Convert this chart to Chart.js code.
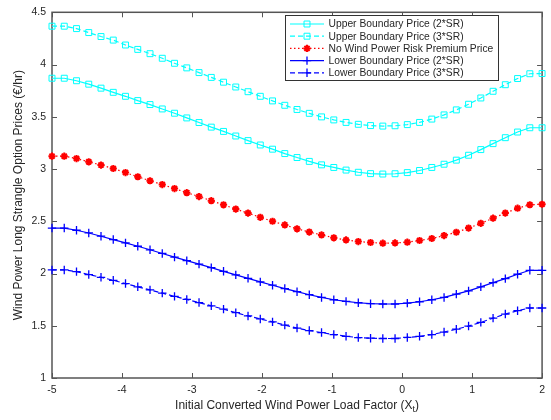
<!DOCTYPE html>
<html>
<head>
<meta charset="utf-8">
<title>Wind Power Long Strangle Option Prices</title>
<script src="https://cdn.jsdelivr.net/npm/chart.js@4/dist/chart.umd.min.js"></script>
<style>
  html, body { margin: 0; padding: 0; background: #fff; }
  #wrap { width: 551px; height: 420px; position: relative; }
</style>
</head>
<body>
<div id="wrap"><canvas id="optionChart"></canvas></div>
<script>
// Initial converted wind power load factor X_t
const loadFactor = [
  -5, -4.825, -4.65, -4.475, -4.3, -4.125, -3.95, -3.775, -3.6, -3.425,
  -3.25, -3.075, -2.9, -2.725, -2.55, -2.375, -2.2, -2.025, -1.85, -1.675,
  -1.5, -1.325, -1.15, -0.975, -0.8, -0.625, -0.45, -0.275, -0.1, 0.075,
  0.25, 0.425, 0.6, 0.775, 0.95, 1.125, 1.3, 1.475, 1.65, 1.825, 2
];

// Option prices (EUR/hr)
const upper2SR = [
  3.869, 3.869, 3.845, 3.812, 3.774, 3.734, 3.696, 3.655, 3.617, 3.575,
  3.534, 3.489, 3.445, 3.401, 3.36, 3.316, 3.272, 3.23, 3.19, 3.148,
  3.11, 3.073, 3.04, 3.015, 2.99, 2.969, 2.956, 2.952, 2.955, 2.966,
  2.986, 3.015, 3.046, 3.085, 3.132, 3.186, 3.243, 3.3, 3.354, 3.395, 3.395
];
const upper3SR = [
  4.367, 4.367, 4.344, 4.306, 4.268, 4.234, 4.187, 4.145, 4.104, 4.06,
  4.012, 3.968, 3.923, 3.877, 3.831, 3.785, 3.74, 3.696, 3.652, 3.61,
  3.57, 3.533, 3.499, 3.47, 3.446, 3.428, 3.416, 3.411, 3.414, 3.425,
  3.446, 3.478, 3.518, 3.566, 3.62, 3.68, 3.744, 3.807, 3.866, 3.912, 3.914
];
const noPremium = [
  3.123, 3.123, 3.1, 3.069, 3.038, 3.005, 2.966, 2.926, 2.888, 2.851,
  2.813, 2.774, 2.736, 2.697, 2.657, 2.617, 2.578, 2.538, 2.5, 2.465,
  2.428, 2.397, 2.369, 2.342, 2.321, 2.306, 2.297, 2.29, 2.293, 2.3,
  2.316, 2.335, 2.363, 2.395, 2.435, 2.48, 2.53, 2.578, 2.625, 2.658, 2.663
];
const lower2SR = [
  2.435, 2.435, 2.414, 2.388, 2.357, 2.325, 2.293, 2.261, 2.227, 2.192,
  2.157, 2.123, 2.09, 2.056, 2.021, 1.987, 1.954, 1.92, 1.888, 1.856,
  1.826, 1.797, 1.771, 1.749, 1.733, 1.72, 1.711, 1.708, 1.708, 1.717,
  1.73, 1.749, 1.771, 1.803, 1.834, 1.872, 1.913, 1.951, 1.993, 2.031, 2.031
];
const lower3SR = [
  2.034, 2.034, 2.018, 1.99, 1.964, 1.935, 1.904, 1.873, 1.843, 1.812,
  1.781, 1.752, 1.722, 1.69, 1.659, 1.625, 1.594, 1.565, 1.537, 1.506,
  1.478, 1.454, 1.435, 1.416, 1.399, 1.387, 1.381, 1.378, 1.378, 1.388,
  1.399, 1.416, 1.44, 1.467, 1.497, 1.532, 1.573, 1.612, 1.644, 1.67, 1.67
];

const xTicks = [-5, -4, -3, -2, -1, 0, 1, 2];
const xTickLabels = ['-5', '-4', '-3', '-2', '-1', '0', '1', '2'];
const yTicks = [1, 1.5, 2, 2.5, 3, 3.5, 4, 4.5];
const yTickLabels = ['1', '1.5', '2', '2.5', '3', '3.5', '4', '4.5'];

const seriesLabels = [
  'Upper Boundary Price (2*SR)',
  'Upper Boundary Price (3*SR)',
  'No Wind Power Risk Premium Price',
  'Lower Boundary Price (2*SR)',
  'Lower Boundary Price (3*SR)'
];

const FONT = '"Liberation Sans", Arial, Helvetica, sans-serif';
const TEXT_COLOR = '#262626';
const AXIS_COLOR = '#555555';

function toPoints(ys) {
  return loadFactor.map((x, i) => ({ x: x, y: ys[i] }));
}

function makeSeries(label, values, color, dash, style, radius, markerWidth) {
  return {
    label: label,
    data: toPoints(values),
    borderColor: color,
    borderWidth: 1.2,
    borderDash: dash,
    tension: 0,
    fill: false,
    clip: false,
    pointStyle: style,
    pointRadius: radius,
    pointHoverRadius: radius,
    pointBorderColor: color,
    pointBackgroundColor: 'rgba(0,0,0,0)',
    pointBorderWidth: markerWidth
  };
}

const datasets = [
  makeSeries(seriesLabels[0], upper2SR, '#00ffff', [], 'rect', 4.2, 1),
  makeSeries(seriesLabels[1], upper3SR, '#00ffff', [5, 3], 'rect', 4.2, 1),
  makeSeries(seriesLabels[2], noPremium, '#ff0000', [1.5, 2.5], 'star', 3.6, 2),
  makeSeries(seriesLabels[3], lower2SR, '#0000ff', [], 'cross', 4.2, 1.3),
  makeSeries(seriesLabels[4], lower3SR, '#0000ff', [5, 3], 'cross', 4.2, 1.3)
];

// axes box with inward ticks on all four sides
const framePlugin = {
  id: 'frame',
  beforeDatasetsDraw(chart) {
    const { ctx, chartArea: a, scales } = chart;
    const tick = 5;
    ctx.save();
    ctx.strokeStyle = AXIS_COLOR;
    ctx.lineWidth = 1.5;
    ctx.strokeRect(a.left, a.top, a.right - a.left, a.bottom - a.top);
    ctx.lineWidth = 1;
    ctx.beginPath();
    xTicks.forEach(v => {
      const px = Math.round(scales.x.getPixelForValue(v)) + 0.5;
      ctx.moveTo(px, a.bottom); ctx.lineTo(px, a.bottom - tick);
      ctx.moveTo(px, a.top); ctx.lineTo(px, a.top + tick);
    });
    yTicks.forEach(v => {
      const py = Math.round(scales.y.getPixelForValue(v)) + 0.5;
      ctx.moveTo(a.left, py); ctx.lineTo(a.left + tick, py);
      ctx.moveTo(a.right, py); ctx.lineTo(a.right - tick, py);
    });
    ctx.stroke();
    ctx.restore();
  }
};

// axis titles, x title carries a subscript t
const titlePlugin = {
  id: 'axisTitles',
  afterDraw(chart) {
    const { ctx, chartArea: a } = chart;
    ctx.save();
    ctx.fillStyle = TEXT_COLOR;
    ctx.textBaseline = 'middle';

    ctx.font = '12px ' + FONT;
    const main = 'Initial Converted Wind Power Load Factor (X';
    const close = ')';
    const wMain = ctx.measureText(main).width;
    const wClose = ctx.measureText(close).width;
    ctx.font = '9px ' + FONT;
    const wSub = ctx.measureText('t').width;
    const total = wMain + wSub + wClose;
    let x = (a.left + a.right) / 2 - total / 2;
    const y = 406;
    ctx.textAlign = 'left';
    ctx.font = '12px ' + FONT;
    ctx.fillText(main, x, y);
    ctx.font = '9px ' + FONT;
    ctx.fillText('t', x + wMain, y + 4);
    ctx.font = '12px ' + FONT;
    ctx.fillText(close, x + wMain + wSub, y);

    ctx.translate(19, (a.top + a.bottom) / 2);
    ctx.rotate(-Math.PI / 2);
    ctx.textAlign = 'center';
    ctx.fillText('Wind Power Long Strangle Option Prices (€/hr)', 0, 0);
    ctx.restore();
  }
};

// boxed legend in the upper right corner
const legendPlugin = {
  id: 'boxLegend',
  afterDraw(chart) {
    const { ctx } = chart;
    const box = { x: 285.5, y: 15.5, w: 213, h: 65 };
    const rowY0 = 24, rowStep = 12.2;
    ctx.save();
    ctx.fillStyle = '#ffffff';
    ctx.fillRect(box.x, box.y, box.w, box.h);
    ctx.strokeStyle = '#333333';
    ctx.lineWidth = 1;
    ctx.strokeRect(box.x, box.y, box.w, box.h);

    chart.data.datasets.forEach((ds, i) => {
      const y = rowY0 + i * rowStep;
      ctx.strokeStyle = ds.borderColor;
      ctx.lineWidth = ds.borderWidth;
      ctx.setLineDash(ds.borderDash);
      ctx.beginPath();
      ctx.moveTo(290, y);
      ctx.lineTo(324, y);
      ctx.stroke();
      ctx.setLineDash([]);
      ctx.fillStyle = 'rgba(0,0,0,0)';
      ctx.lineWidth = ds.pointBorderWidth;
      Chart.helpers.drawPoint(ctx, {
        pointStyle: ds.pointStyle,
        radius: ds.pointRadius,
        borderWidth: ds.pointBorderWidth,
        rotation: 0
      }, 307, y);

      ctx.fillStyle = TEXT_COLOR;
      ctx.font = '10.3px ' + FONT;
      ctx.textAlign = 'left';
      ctx.textBaseline = 'middle';
      ctx.fillText(ds.label, 328.5, y + 0.5);
    });
    ctx.restore();
  }
};

new Chart(document.getElementById('optionChart'), {
  type: 'line',
  data: { datasets: datasets },
  options: {
    responsive: true,
    maintainAspectRatio: false,
    animation: false,
    events: [],
    layout: { padding: { top: 9, right: 2, left: 0, bottom: 0 } },
    plugins: {
      legend: { display: false },
      title: { display: false },
      tooltip: { enabled: false }
    },
    scales: {
      x: {
        type: 'linear',
        min: -5,
        max: 2,
        afterBuildTicks: s => { s.ticks = xTicks.map(v => ({ value: v })); },
        afterFit: s => { s.height = 42; },
        grid: { display: false, drawTicks: false },
        border: { display: false },
        ticks: {
          padding: 6,
          color: TEXT_COLOR,
          font: { family: FONT, size: 10.5 },
          maxRotation: 0,
          callback: v => xTickLabels[xTicks.indexOf(v)]
        }
      },
      y: {
        type: 'linear',
        min: 1,
        max: 4.5,
        afterBuildTicks: s => { s.ticks = yTicks.map(v => ({ value: v })); },
        afterFit: s => { s.width = 52; },
        grid: { display: false, drawTicks: false },
        border: { display: false },
        ticks: {
          padding: 6,
          color: TEXT_COLOR,
          font: { family: FONT, size: 10.5 },
          callback: v => yTickLabels[yTicks.indexOf(v)]
        }
      }
    }
  },
  plugins: [framePlugin, titlePlugin, legendPlugin]
});
</script>
</body>
</html>
